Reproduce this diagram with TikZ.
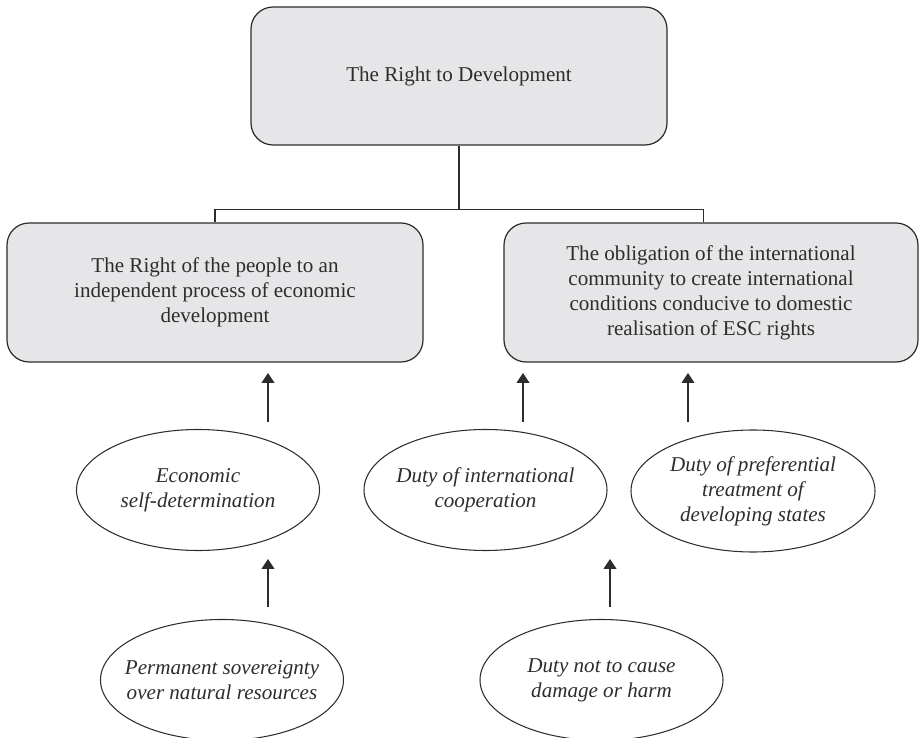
\documentclass[tikz,border=0pt]{standalone}
\usepackage{fontspec}
\setmainfont{Liberation Serif}
\usetikzlibrary{shapes.geometric,arrows.meta}
\definecolor{boxgray}{RGB}{230,230,232}
\definecolor{ink}{RGB}{45,45,45}

\begin{document}
\begin{tikzpicture}[
  block/.style={rectangle, draw=ink, fill=boxgray, rounded corners=0.44cm, line width=0.7pt, align=center, text=ink, font=\fontsize{12}{14.2}\selectfont},
  oval/.style={ellipse, draw=ink, line width=0.6pt, minimum width=4.86cm, minimum height=2.42cm, inner sep=0pt},
  duty/.style={align=center, text=ink, font=\fontsize{12}{14.2}\selectfont\itshape},
  arr/.style={-{Triangle[length=2mm,width=2.6mm]}, line width=0.6pt, draw=ink}
]
\useasboundingbox (0,0) rectangle (18.38,-14.76);

\node[block, minimum width=8.32cm, minimum height=2.76cm] (rtd) at (9.18,-1.52) {The Right to Development};
\node[block, minimum width=8.32cm, minimum height=2.78cm] (people) at (4.30,-5.85) {The Right of the people to an\\independent process of economic\\development};
\node[block, minimum width=8.28cm, minimum height=2.78cm] (intl) at (14.22,-5.85) {The obligation of the international\\community to create international\\conditions conducive to domestic\\realisation of ESC rights};

% Duties
\node[oval] (econ) at (3.96,-9.80) {};
\node[duty] (econ-txt) at (econ) {Economic\\self-determination};
\node[oval] (coop) at (9.71,-9.80) {};
\node[duty] (coop-txt) at (coop) {Duty of international\\cooperation};
\node[oval, minimum width=4.88cm, minimum height=2.44cm] (pref) at (15.06,-9.82) {};
\node[duty] (pref-txt) at (pref) {Duty of preferential\\treatment of\\developing states};
\node[oval] (sov) at (4.44,-13.60) {};
\node[duty] (sov-txt) at (sov) {Permanent sovereignty\\over natural resources};
\node[oval] (harm) at (12.03,-13.60) {};
\node[duty] (harm-txt) at (harm) {Duty not to cause\\damage or harm};

% Tree connector
\draw[ink, line width=0.7pt] (rtd.south) -- ++(0,-1.28) coordinate (split);
\draw[ink, line width=0.7pt] (people.north) |- (split) -| ([xshift=-0.15cm]intl.north);

% Arrow ends
\coordinate (econ-up) at (5.36,-8.44);
\coordinate (people-in) at (5.36,-7.46);
\coordinate (coop-up) at (10.46,-8.44);
\coordinate (intl-in1) at (10.46,-7.46);
\coordinate (pref-up) at (13.76,-8.44);
\coordinate (intl-in2) at (13.76,-7.46);
\coordinate (sov-up) at (5.36,-12.14);
\coordinate (econ-in) at (5.36,-11.18);
\coordinate (harm-up) at (12.20,-12.14);
\coordinate (coop-in) at (12.20,-11.18);

\draw[arr] (econ-up) -- (people-in);
\draw[arr] (coop-up) -- (intl-in1);
\draw[arr] (pref-up) -- (intl-in2);
\draw[arr] (sov-up) -- (econ-in);
\draw[arr] (harm-up) -- (coop-in);
\end{tikzpicture}
\end{document}
